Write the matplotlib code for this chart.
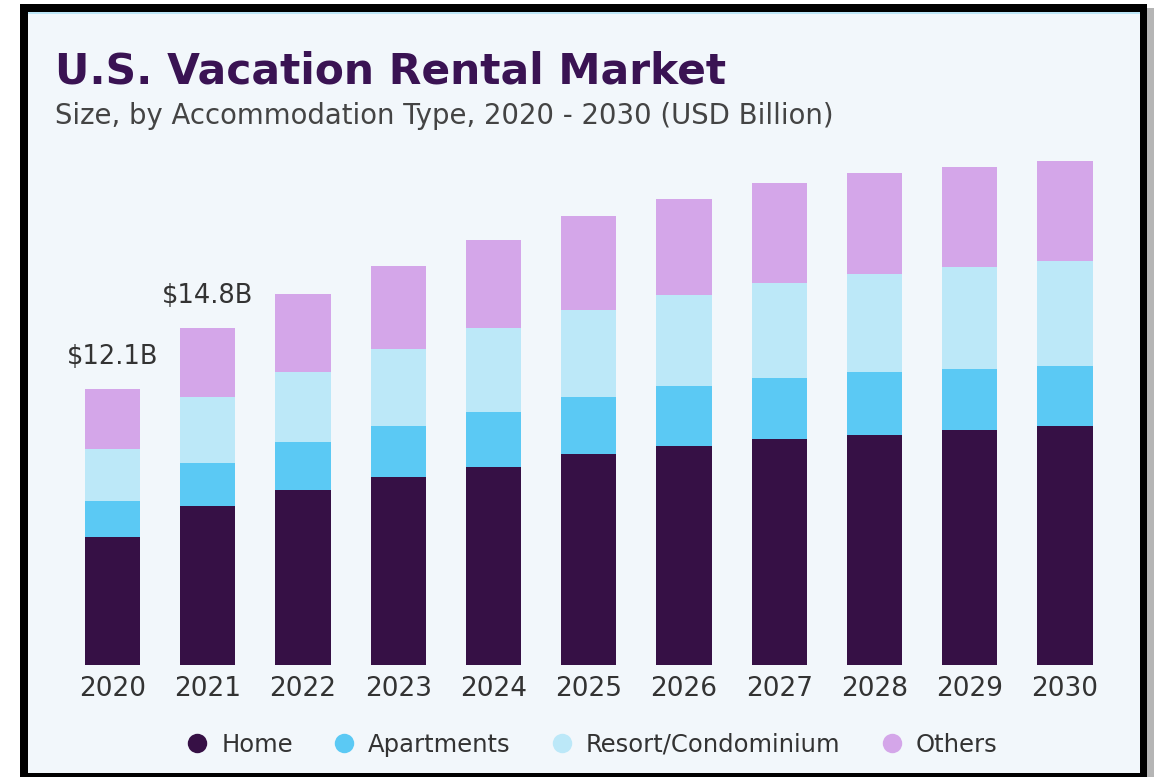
import matplotlib.pyplot as plt
from matplotlib.patches import Rectangle
from matplotlib.lines import Line2D
import numpy as np

years = ['2020', '2021', '2022', '2023', '2024', '2025', '2026', '2027', '2028', '2029', '2030']
home = [5.61, 6.97, 7.68, 8.25, 8.68, 9.25, 9.61, 9.91, 10.09, 10.31, 10.48]
apartments = [1.58, 1.89, 2.11, 2.24, 2.41, 2.50, 2.63, 2.68, 2.76, 2.68, 2.63]
resort = [2.28, 2.89, 3.07, 3.38, 3.68, 3.82, 3.99, 4.17, 4.30, 4.47, 4.61]
others = [2.63, 3.03, 3.42, 3.64, 3.86, 4.12, 4.21, 4.39, 4.43, 4.39, 4.39]
segments = ['Home', 'Apartments', 'Resort/Condominium', 'Others']
colors = ['#361045', '#5bc9f4', '#bce8f8', '#d4a6e9']
callouts = {0: '$12.1B', 1: '$14.8B'}

W, H = 1154, 777
BG = '#f2f7fb'
plt.rcParams['font.family'] = ['DejaVu Sans']

fig = plt.figure(figsize=(W / 100, H / 100), dpi=100)
fig.patch.set_facecolor('white')

def px(x0, y0, x1, y1):
    # figure fraction rect from pixel box (top-left origin)
    return (x0 / W, 1 - y1 / H, (x1 - x0) / W, (y1 - y0) / H)

# frame: drop shadow, black border, light panel
for box, col in [((1147, 8, 1154, 777), '#b5b5b5'),
                 ((20, 4, 1147, 777), 'black'),
                 ((28, 12, 1140, 773), BG),
                 ((28, 12, 1140, 14), '#bde6f7')]:
    x, y, w, h = px(*box)
    fig.patches.append(Rectangle((x, y), w, h, transform=fig.transFigure,
                                 facecolor=col, edgecolor='none', zorder=-10))

fig.text(55 / W, 1 - 83 / H, 'U.S. Vacation Rental Market', fontsize=30.5,
         fontweight='heavy', color='#3a1353')
fig.text(55 / W, 1 - 124 / H, 'Size, by Accommodation Type, 2020 - 2030 (USD Billion)',
         fontsize=19.8, color='#444444')

# axes: baseline at y=665 px, 2020 centre at 112.5 px, 2030 centre at 1065 px
step = (1065 - 112.5) / 10
left = 112.5 - 0.55 * step
right = 1065 + 0.55 * step
ax = fig.add_axes(px(left, 150, right, 665))
ax.set_facecolor('none')
ax.set_xlim(-0.55, 10.55)
ax.set_ylim(0, (665 - 150) / 22.8)

x = np.arange(len(years))
bottom = np.zeros(len(years))
for vals, col in zip([home, apartments, resort, others], colors):
    ax.bar(x, vals, bottom=bottom, width=0.58, color=col, edgecolor='none')
    bottom += np.array(vals)

for i, label in callouts.items():
    ax.annotate(label, (x[i], bottom[i]), xytext=(0, 14), textcoords='offset points',
                ha='center', va='bottom', fontsize=18.5, color='#333333')

ax.set_xticks(x, years)
ax.tick_params(axis='x', length=0, pad=8, labelsize=19, labelcolor='#333333')
ax.set_yticks([])
for s in ax.spines.values():
    s.set_visible(False)

handles = [Line2D([], [], marker='o', linestyle='none', markersize=14,
                  markerfacecolor=c, markeredgecolor='none') for c in colors]
fig.legend(handles, segments, loc='center', bbox_to_anchor=(590 / W, 1 - 745 / H),
           ncol=4, frameon=False, fontsize=17.5, labelcolor='#333333',
           handletextpad=0.4, columnspacing=1.5, handlelength=1.2)

fig.savefig('out.png', dpi=100, facecolor=fig.get_facecolor())
